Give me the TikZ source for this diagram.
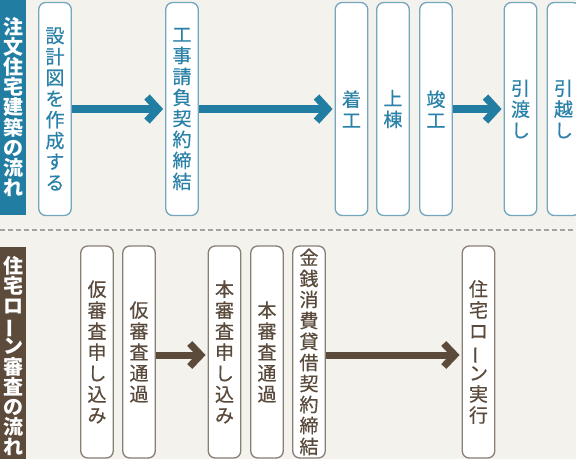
\documentclass[tikz,border=0pt]{standalone}
\usepackage{fontspec}
\usepackage{graphicx}
\newfontfamily\jp{Noto Sans CJK JP}
\newfontfamily\jpm[FakeBold=0.5]{Noto Sans CJK JP}
\usetikzlibrary{arrows.meta}
\definecolor{bgc}{HTML}{F4F2ED}
\definecolor{blu}{HTML}{227DA3}
\definecolor{blutext}{HTML}{2A82A8}
\definecolor{bluline}{HTML}{74A6BE}
\definecolor{brn}{HTML}{5C4B3B}
\definecolor{brntext}{HTML}{5A4A3C}
\definecolor{brnline}{HTML}{8A7F74}
\definecolor{dashc}{HTML}{A3A3A3}
\newcommand\vchou{\smash{\rotatebox[origin=c]{90}{ー}}}
\tikzset{
  box/.style={draw, fill=white, rounded corners=7pt, line width=1.3pt,
    minimum width=32.5pt, inner sep=0pt, align=center,
    font=\jpm\fontsize{19}{21}\selectfont},
  topbox/.style={box, draw=bluline, text=blutext, minimum height=213pt},
  botbox/.style={box, draw=brnline, text=brntext, minimum height=212pt},
  labeltext/.style={inner sep=0pt, align=center, text=white,
    font=\jp\bfseries\fontsize{20}{20.2}\selectfont},
  toparrow/.style={draw=blu, line width=7.5pt, -{Straight Barb[length=11pt,width=24pt,line join=miter]}},
  botarrow/.style={draw=brn, line width=7pt, -{Straight Barb[length=11pt,width=23pt,line join=miter]}},
}
\begin{document}
\begin{tikzpicture}[x=1pt,y=-1pt]
\useasboundingbox (0,0) rectangle (576,459);
\clip (0,0) rectangle (576,459);
\fill[bgc] (0,0) rectangle (576,459);
% label bars
\fill[blu] (0,0) rectangle (26,215);
\node[labeltext] (lab1) at (13,107) {注\\文\\住\\宅\\建\\築\\の\\流\\れ};
\fill[brn] (0,247) rectangle (26,459);
\node[labeltext] (lab2) at (13,356) {住\\宅\\ロ\\\vchou\\ン\\審\\査\\の\\流\\れ};
% dashed separator
\draw[dashc, line width=1.2pt, dash pattern=on 5pt off 3pt] (0,230) -- (576,230);
% top row
\node[topbox] (b1) at (55,109) {設\\計\\図\\を\\作\\成\\す\\る};
\node[topbox] (b2) at (182,109) {工\\事\\請\\負\\契\\約\\締\\結};
\node[topbox] (b3) at (351.5,109) {着\\工};
\node[topbox] (b4) at (393,109) {上\\棟};
\node[topbox] (b5) at (436,109) {竣\\工};
\node[topbox] (b6) at (520.5,109) {引\\渡\\し};
\node[topbox] (b7) at (563.5,109) {引\\越\\し};
\draw[toparrow] (b1.east) -- ([xshift=-2pt]b2.west);
\draw[toparrow] (b2.east) -- ([xshift=-2pt]b3.west);
\draw[toparrow] (b5.east) -- ([xshift=-2pt]b6.west);
% bottom row
\node[botbox] (c1) at (97,352) {仮\\審\\査\\申\\し\\込\\み};
\node[botbox] (c2) at (139,352) {仮\\審\\査\\通\\過};
\node[botbox] (c3) at (224.5,352) {本\\審\\査\\申\\し\\込\\み};
\node[botbox] (c4) at (267,352) {本\\審\\査\\通\\過};
\node[botbox] (c5) at (309,352) {金\\銭\\消\\費\\貸\\借\\契\\約\\締\\結};
\node[botbox] (c6) at (478.5,352) {住\\宅\\ロ\\\vchou\\ン\\実\\行};
\draw[botarrow] ([yshift=-3pt]c2.east) -- ([yshift=-3pt,xshift=-2pt]c3.west);
\draw[botarrow] ([yshift=-3pt]c5.east) -- ([yshift=-3pt,xshift=-2pt]c6.west);
\end{tikzpicture}
\end{document}
